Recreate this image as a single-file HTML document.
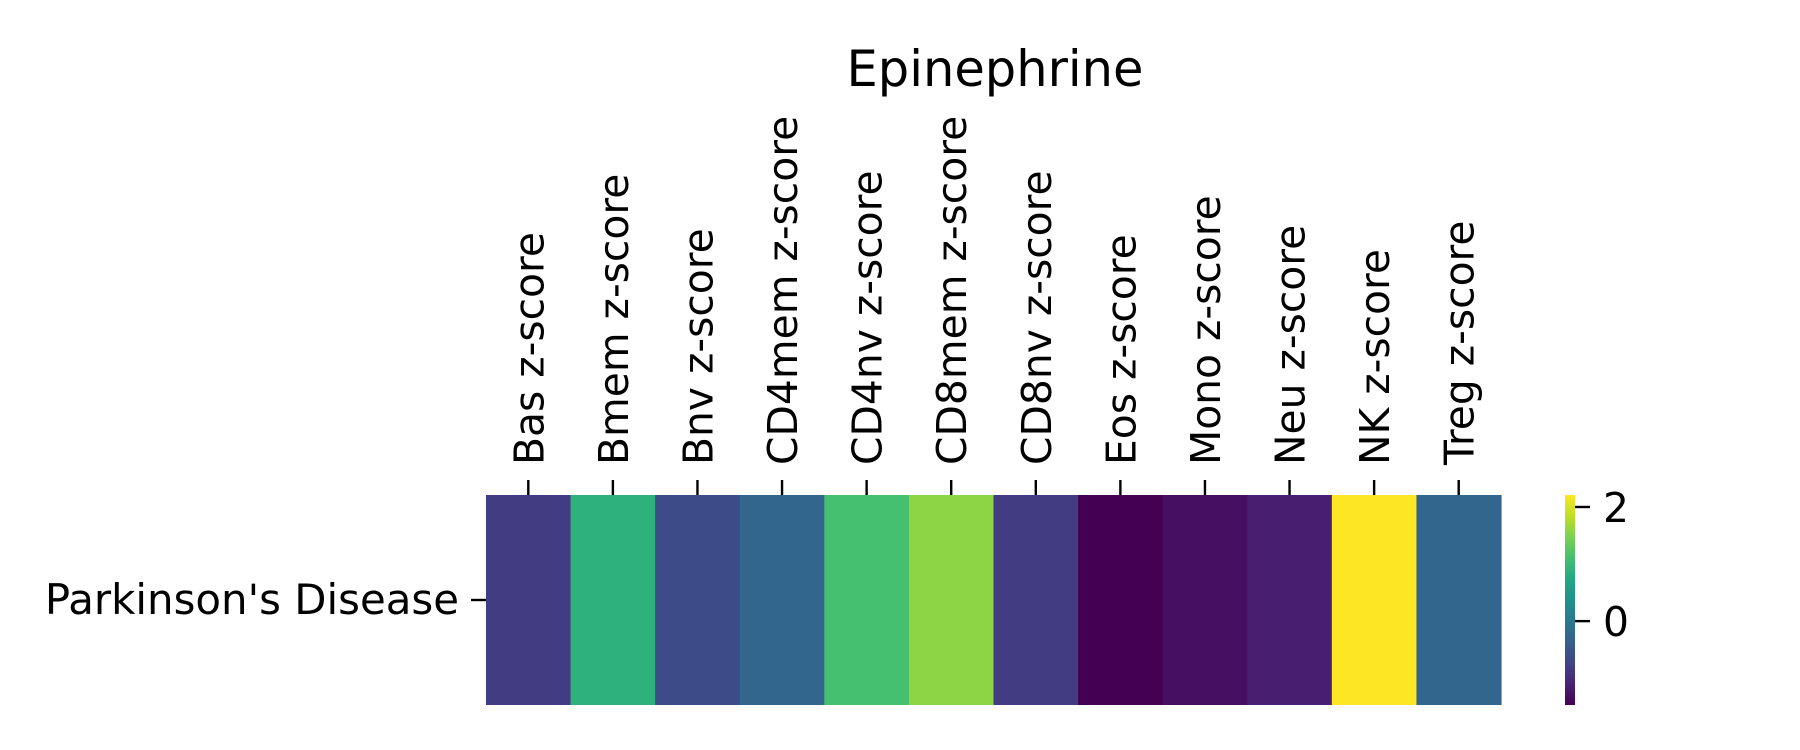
<!DOCTYPE html>
<html><head><meta charset="utf-8"><style>
html,body{margin:0;padding:0;background:#fff;}
svg{display:block;font-family:"DejaVu Sans","Liberation Sans",sans-serif;}
</style></head><body>
<svg id="chart" width="1800" height="750" viewBox="0 0 1800 750">
<defs><linearGradient id="vir" x1="0" y1="1" x2="0" y2="0"></linearGradient></defs>
<text x="995" y="86" font-size="49.5" text-anchor="middle">Epinephrine</text>
<g id="cells"></g><g id="xticks"></g>
<g>
<line x1="471" y1="600" x2="486" y2="600" stroke="#000" stroke-width="2.4"/>
<text x="459" y="614" font-size="41.9" text-anchor="end">Parkinson's Disease</text>
</g>
<g id="cbar"></g>
</svg>
<script>
const categories=["Bas z-score","Bmem z-score","Bnv z-score","CD4mem z-score","CD4nv z-score","CD8mem z-score","CD8nv z-score","Eos z-score","Mono z-score","Neu z-score","NK z-score","Treg z-score"];
const values=[-0.81,0.88,-0.62,-0.26,1.11,1.58,-0.81,-1.47,-1.32,-1.16,2.21,-0.26];
const cbarTicks=[0,2];
const vmin=Math.min(...values), vmax=Math.max(...values);
const VIR=["#440154","#482475","#414487","#355f8d","#2a788e","#21918c","#22a884","#44bf70","#7ad151","#bddf26","#fde725"];
function hex(h){return [1,3,5].map(i=>parseInt(h.substr(i,2),16));}
function viridis(t){t=Math.max(0,Math.min(1,t));const p=t*10,i=Math.min(9,Math.floor(p)),f=p-i;const a=hex(VIR[i]),b=hex(VIR[i+1]);return "rgb("+a.map((v,k)=>Math.round(v+(b[k]-v)*f)).join(",")+")";}
const L=486,R=1501,T=495,B=705;
const cw=(R-L)/categories.length;
const xC=i=>L+cw*(i+0.5);
const cbY=v=>B-(v-vmin)/(vmax-vmin)*(B-T);
const NS="http://www.w3.org/2000/svg";
function mk(tag,attrs,parent){const e=document.createElementNS(NS,tag);for(const k in attrs)e.setAttribute(k,attrs[k]);parent.appendChild(e);return e;}
const cells=document.getElementById('cells'), xt=document.getElementById('xticks');
values.forEach((v,i)=>{
 const r=mk('rect',{x:L+cw*i,y:T,width:cw+0.6,height:B-T,fill:viridis((v-vmin)/(vmax-vmin))},cells);
 
 
});
categories.forEach((c,i)=>{
 const x=xC(i);
 const ln=mk('line',{x1:x,y1:480,x2:x,y2:495,stroke:'#000','stroke-width':2.4},xt);
 
 
 const t=mk('text',{x:0,y:0,'font-size':40.8,'text-anchor':'start',transform:`translate(${x+15},465) rotate(-90)`},xt);
 t.textContent=c;
 
 
});
const g=document.getElementById('vir');
VIR.forEach((c,i)=>mk('stop',{offset:(i*10)+'%','stop-color':c},g));
const cb=document.getElementById('cbar');
const cr=mk('rect',{x:1565,y:T,width:10,height:B-T,fill:'url(#vir)'},cb);


cbarTicks.forEach(v=>{
 const y=cbY(v);
 const l=mk('line',{x1:1575,y1:y,x2:1590,y2:y,stroke:'#000','stroke-width':2.4},cb);
 
 
 const t=mk('text',{x:1603,y:y+15,'font-size':40.8},cb);
 t.textContent=String(v);
 
 
});
</script>
</body></html>
